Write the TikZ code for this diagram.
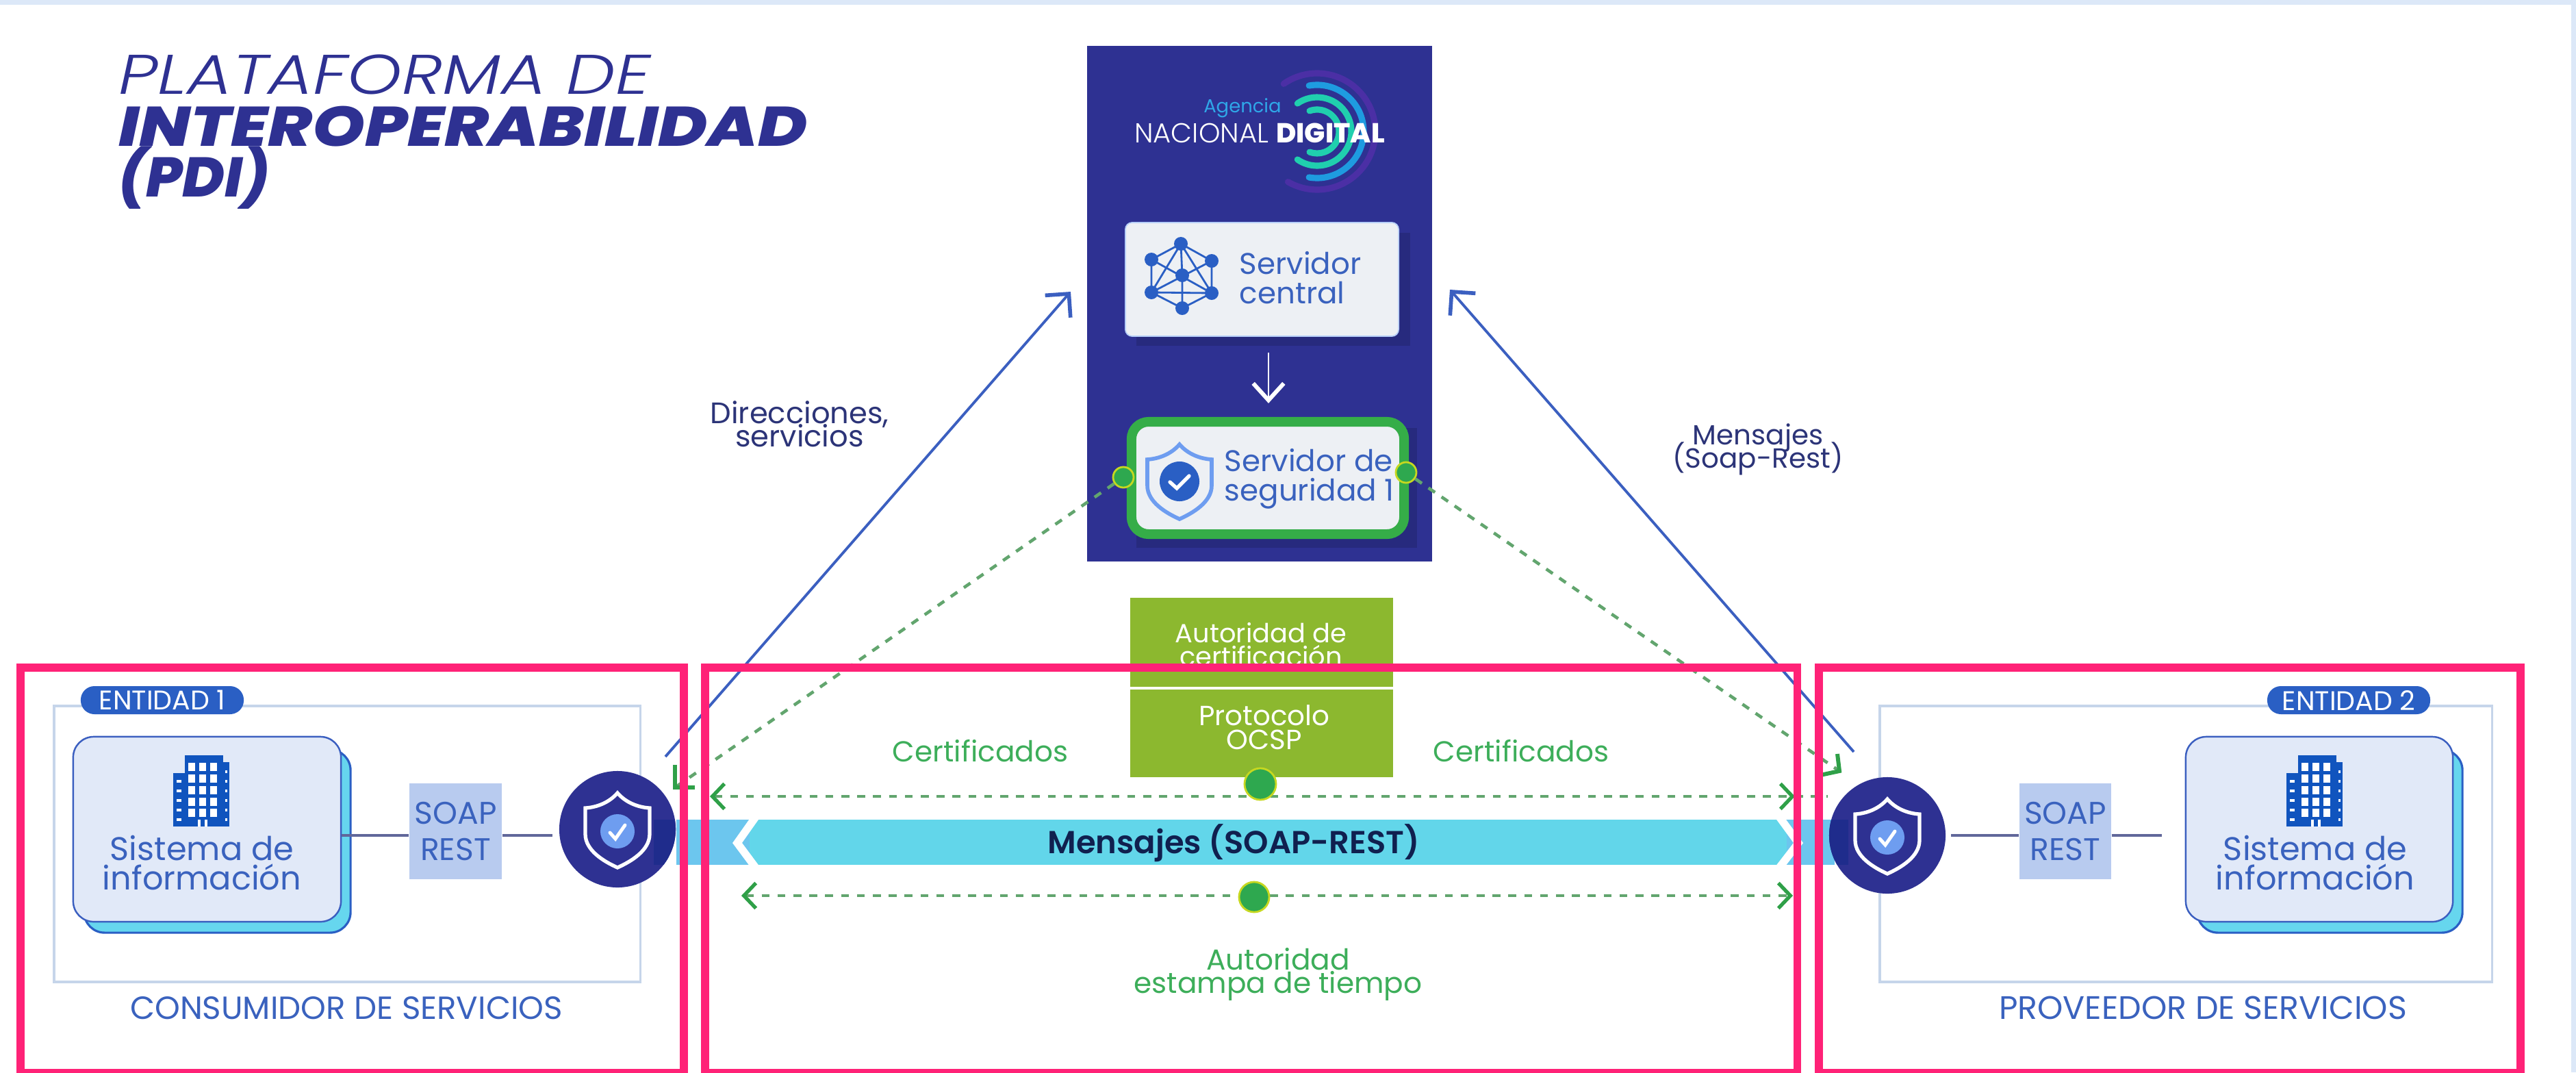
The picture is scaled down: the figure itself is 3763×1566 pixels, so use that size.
\documentclass[tikz,border=0pt]{standalone}
\usepackage{fontspec}
\setmainfont{Poppins}
\usetikzlibrary{arrows.meta,shapes.geometric,calc}
\newfontfamily\titlelight{Poppins Light Italic}[FakeStretch=1.24]
\newfontfamily\titleheavy{Poppins ExtraBold Italic}[FakeStretch=1.2]
\newfontfamily\titleshort{Poppins ExtraBold Italic}[FakeStretch=1.03]
\newfontfamily\semifont{Poppins SemiBold}
\newfontfamily\lightfont{Poppins Light}
\newfontfamily\logobold{Poppins ExtraBold}
\newcommand{\tsize}[2]{\fontsize{#1}{#2}\selectfont\lineskiplimit=-20pt\relax}
\definecolor{navy}{HTML}{2E3192}
\definecolor{navyshadow}{HTML}{272A7E}
\definecolor{navydark}{HTML}{1F2C8C}
\definecolor{pagebar}{HTML}{DCE8F8}
\definecolor{pinkframe}{HTML}{FF2277}
\definecolor{linkblue}{HTML}{3B5FC0}
\definecolor{midblue}{HTML}{2A5FC4}
\definecolor{textblue}{HTML}{3A62BE}
\definecolor{inkblue}{HTML}{2C3478}
\definecolor{bandink}{HTML}{10204F}
\definecolor{lightbox}{HTML}{E1E9F8}
\definecolor{softbox}{HTML}{EDF0F4}
\definecolor{cyanshadow}{HTML}{66D6EE}
\definecolor{soapfill}{HTML}{B8CBEF}
\definecolor{framegrey}{HTML}{C6D5EA}
\definecolor{bandcyan}{HTML}{62D6EA}
\definecolor{bandleft}{HTML}{6CC6EE}
\definecolor{mossgreen}{HTML}{8CB82F}
\definecolor{labelgreen}{HTML}{3DAE5A}
\definecolor{dashgreen}{HTML}{62A56E}
\definecolor{tipgreen}{HTML}{2FA048}
\definecolor{dotgreen}{HTML}{2EA84F}
\definecolor{ringyellow}{HTML}{C6D820}
\definecolor{secgreen}{HTML}{35AD48}
\definecolor{buildingblue}{HTML}{1054BE}
\definecolor{ringpurple}{HTML}{4B2FA5}
\definecolor{ringblue}{HTML}{1E9BE0}
\definecolor{ringteal}{HTML}{20CFAE}
\definecolor{agencyblue}{HTML}{2FA7E8}
\definecolor{checkblue}{HTML}{6E9DF0}
\tikzset{
  pinkbox/.style={draw=pinkframe,line width=3.4pt,inner sep=0pt,fill=none},
  entitybox/.style={draw=framegrey,line width=1pt,inner sep=0pt,fill=white},
  badge/.style={rounded corners=0.2cm,fill=midblue,inner sep=0pt,minimum width=2.38cm,minimum height=0.41cm,text=white,font=\tsize{11.2}{12}},
  sisbox/.style={rounded corners=0.3cm,draw=linkblue,line width=0.7pt,fill=lightbox,inner sep=0pt},
  sisshadow/.style={rounded corners=0.3cm,draw=midblue,line width=0.9pt,fill=cyanshadow,inner sep=0pt},
  soapbox/.style={fill=soapfill,inner sep=0pt,align=center,text=textblue,font=\tsize{13}{14.8}},
  circlenode/.style={circle,fill=navy,inner sep=0pt,minimum size=1.7cm},
  caption/.style={text=textblue,inner sep=0pt},
  systext/.style={text=textblue,align=center,inner sep=0pt,font=\tsize{13.6}{12.2}},
  greentext/.style={text=labelgreen,align=center,inner sep=0pt,font=\tsize{12}{9.6}},
  inktext/.style={text=inkblue,align=center,inner sep=0pt},
  whitegreen/.style={text=white,align=center,inner sep=0pt},
  srvtext/.style={text=textblue,align=left,inner sep=0pt,anchor=west,font=\tsize{12.4}{12.2}},
  thinlink/.style={draw=inkblue!75,line width=1.1pt},
  bluearrow/.style={draw=linkblue,line width=1.1pt,-{Straight Barb[length=7pt,width=14pt,line width=1.6pt]}},
  greendash/.style={draw=dashgreen,line width=1.3pt,dash pattern=on 3.3pt off 3.3pt},
  greenhead/.style={draw=tipgreen,line width=1.7pt,line join=miter},
  greentips/.style={greendash,{Straight Barb[length=5pt,width=10.5pt,line width=1.5pt,color=tipgreen]}-{Straight Barb[length=5pt,width=10.5pt,line width=1.5pt,color=tipgreen]}},
  greendot/.style={circle,fill=dotgreen,draw=ringyellow,line width=0.8pt,inner sep=0pt},
  netdot/.style={circle,fill=midblue,inner sep=0pt,minimum size=0.2cm},
  logoarc/.style={line width=2.6pt,line cap=round},
  building/.pic={
    \fill[buildingblue] (-42,26) rectangle (-25,-52);
    \fill[buildingblue] (31,42) rectangle (40,-52);
    \fill[buildingblue] (-25,52) rectangle (31,-52);
    \foreach \c in {-15,1,17}{\foreach \r in {35,18,1,-16,-32}{\fill[white] (\c-5,\r-6) rectangle (\c+5,\r+6);}}
    \foreach \r in {14,0,-14,-28,-42}{\fill[white] (-37,\r-2) rectangle (-30,\r+2);}
    \foreach \r in {28,14,0,-14,-28,-42}{\fill[white] (34,\r-2) rectangle (37,\r+2);}
    \fill[white] (-6,-52) rectangle (-2,-42);
    \fill[white] (4,-52) rectangle (8,-42);
  },
  shieldpic/.pic={
    \path[pic actions] (0,54) .. controls (12,40) and (30,33) .. (47,32) -- (47,-6) .. controls (47,-30) and (20,-46) .. (0,-55) .. controls (-20,-46) and (-47,-30) .. (-47,-6) -- (-47,32) .. controls (-30,33) and (-12,40) .. (0,54) -- cycle;
  }
}
\begin{document}
\begin{tikzpicture}[x=0.01cm,y=0.01cm]
\useasboundingbox (0,0) rectangle (3763,-1566);
\fill[white] (0,0) rectangle (3763,-1566);
\fill[pagebar] (0,0) rectangle (3763,-7);
\fill[pagebar] (3756,0) rectangle (3763,-1566);

% title
\node[anchor=base west,inner sep=0pt,text=navy,font=\tsize{23.2}{24}\titlelight] (title1) at (173,-137) {PLATAFORMA DE};
\node[anchor=base west,inner sep=0pt,text=navy,font=\tsize{23.2}{24}\titleheavy] (title2) at (173,-213) {INTEROPERABILIDAD};
\node[anchor=base west,inner sep=0pt,text=navy,font=\tsize{23.2}{24}\titleshort] (title3) at (173,-287) {(PDI)};

% central column
\node[fill=navy,inner sep=0pt,minimum width=5.03cm,minimum height=7.53cm] (panel) at (1840,-443.5) {};
% logo
\foreach \r/\col/\a/\b in {85/ringpurple/125/-120, 68/ringblue/100/-100, 50/ringteal/125/-125, 32/ringteal/110/-110}{
  \draw[logoarc,\col] (1924,-192) ++(\a:\r) arc[start angle=\a,end angle=\b,radius=\r*0.01cm];
}
\node[inner sep=0pt,text=agencyblue,font=\tsize{7.8}{10}] (agencia) at (1815,-158) {Agencia};
\node[inner sep=0pt,text=white,anchor=center,font=\tsize{11.4}{12}] (nacional) at (1840,-194) {\lightfont NACIONAL {\logobold DIGITAL}};

% servidor central
\fill[navyshadow] (1660,-340) rectangle (2060,-505);
\node[rounded corners=0.1cm,fill=softbox,draw=checkblue!50,line width=0.5pt,inner sep=0pt,minimum width=3.99cm,minimum height=1.66cm] (central) at (1843.5,-408) {};
\coordinate (n1) at (1725,-356);
\coordinate (n2) at (1770,-381);
\coordinate (n3) at (1770,-428);
\coordinate (n4) at (1727,-450);
\coordinate (n5) at (1682,-427);
\coordinate (n6) at (1682,-379);
\coordinate (n7) at (1727,-402);
\draw[midblue,line width=0.8pt] (n1)--(n2)--(n3)--(n4)--(n5)--(n6)--cycle (n1)--(n7)--(n4) (n6)--(n3) (n2)--(n5) (n5)--(n3) (n1)--(n5) (n1)--(n3);
\foreach \n in {n1,n2,n3,n4,n5,n6,n7}{\node[netdot] at (\n) {};}
\node[srvtext] (centraltext) at (1810,-406) {Servidor\\central};

% security server
\fill[navyshadow] (1660,-625) rectangle (2070,-800);
\node[rounded corners=0.25cm,fill=softbox,draw=secgreen,line width=4pt,inner sep=0pt,minimum width=3.98cm,minimum height=1.64cm] (security) at (1852,-698) {};
\coordinate (downstart) at ($(central.south)+(9.5,-23)$);
\coordinate (downtip) at ($(security.north)+(1,20)$);
\draw[white,line width=0.8pt,-{Straight Barb[length=7pt,width=12.7pt,line width=1.7pt]}] (downstart) -- (downtip);
\node[srvtext] (securitytext) at (1788,-699) {Servidor de\\seguridad 1};
\pic[draw=checkblue,line width=1.6pt,fill=softbox] at (1723,-703) {shieldpic};
\fill[midblue] (1723,-703) circle (0.29cm);
\draw[white,line width=1.5pt,line cap=round] (1709,-704) -- (1719,-713) -- (1737,-695);

\node[greendot,minimum size=0.3cm] (dotL) at (1641,-697) {};
\node[greendot,minimum size=0.3cm] (dotR) at (2054,-690) {};

% blue connectors
\coordinate (dirstart) at (972,-1105);
\coordinate (dirtip) at (1564,-426);
\coordinate (msgstart) at (2708,-1098);
\coordinate (msgtip) at (2118,-423);
\draw[bluearrow] (dirstart) -- (dirtip);
\draw[bluearrow] (msgstart) -- (msgtip);
\node[inktext,font=\tsize{12.3}{9.6}] (dirlabel) at (1168,-619) {Direcciones,\\servicios};
\node[inktext,font=\tsize{11.5}{9.6}] (msglabel) at (2568,-656) {Mensajes\\(Soap-Rest)};

% entity boxes
\node[entitybox,minimum width=8.56cm,minimum height=4.03cm] (ent1) at (507,-1232.5) {};
\node[entitybox,minimum width=8.94cm,minimum height=4.03cm] (ent2) at (3193,-1232.5) {};
\node[badge] (bad1) at (237,-1022.5) {ENTIDAD 1};
\node[badge] (bad2) at (3431,-1022.5) {ENTIDAD 2};
\node[caption,font=\tsize{13.3}{14}] (cap1) at (506,-1472) {CONSUMIDOR DE SERVICIOS};
\node[caption,font=\tsize{13.5}{14}] (cap2) at (3218,-1472) {PROVEEDOR DE SERVICIOS};

% band
\fill[bandcyan] (988,-1197) rectangle (2680,-1263);
\fill[bandleft] (988,-1197) rectangle (1095,-1263);
\fill[bandleft] (2610,-1197) rectangle (2680,-1263);
\draw[white,line width=3.2pt,line join=miter] (1106,-1190) -- (1077,-1231) -- (1106,-1270);
\draw[white,line width=3.2pt,line join=miter] (2597,-1190) -- (2627,-1231) -- (2597,-1270);
\node[inner sep=0pt,text=bandink,font=\tsize{13.2}{14}\semifont] (band) at (1802,-1231) {Mensajes (SOAP-REST)};

% left system
\node[sisshadow,minimum width=3.89cm,minimum height=2.67cm] (sh1) at (317.5,-1228.5) {};
\node[sisbox,minimum width=3.91cm,minimum height=2.70cm] (sis1) at (302.5,-1211) {};
\pic at (295,-1155) {building};
\node[systext] (sistxt1) at (295,-1260) {Sistema de\\información};
\node[soapbox,minimum width=1.35cm,minimum height=1.40cm] (soap1) at (665.5,-1214) {SOAP\\REST};
\node[circlenode] (c1) at (902,-1211) {};
\begin{scope}
\clip (902,-1211) circle (0.85cm);
\fill[navydark] (955,-1197) rectangle (1000,-1263);
\end{scope}
\pic[draw=white,line width=1.5pt,fill=none] at (902,-1212) {shieldpic};
\fill[checkblue] (902,-1214) circle (0.25cm);
\draw[white,line width=1.4pt,line cap=round] (891,-1216) -- (899,-1225) -- (913,-1205);
\draw[thinlink] (sis1.east |- 0,-1220) -- (soap1.west |- 0,-1220);
\draw[thinlink] (soap1.east |- 0,-1220) -- (807,-1220);

% right system
\node[sisshadow,minimum width=3.87cm,minimum height=2.67cm] (sh2) at (3403.5,-1228.5) {};
\node[sisbox,minimum width=3.90cm,minimum height=2.70cm] (sis2) at (3388,-1211) {};
\pic at (3382,-1155) {building};
\node[systext] (sistxt2) at (3382,-1260) {Sistema de\\información};
\node[soapbox,minimum width=1.34cm,minimum height=1.40cm] (soap2) at (3017,-1214) {SOAP\\REST};
\node[circlenode] (c2) at (2757,-1220) {};
\begin{scope}
\clip (2757,-1220) circle (0.85cm);
\fill[navydark] (2660,-1197) rectangle (2700,-1263);
\end{scope}
\pic[draw=white,line width=1.5pt,fill=none] at (2757,-1221) {shieldpic};
\fill[checkblue] (2757,-1223) circle (0.25cm);
\draw[white,line width=1.4pt,line cap=round] (2746,-1225) -- (2754,-1234) -- (2768,-1214);
\draw[thinlink] (2850,-1220) -- (soap2.west |- 0,-1220);
\draw[thinlink] (soap2.east |- 0,-1220) -- (3158,-1220);

% authority box
\node[fill=mossgreen,inner sep=0pt,minimum width=3.84cm,minimum height=2.62cm] (auth) at (1843,-1004) {};
\draw[white,line width=0.9pt] (auth.west |- 0,-1005) -- (auth.east |- 0,-1005);
\node[whitegreen,font=\tsize{10.9}{9.8}] (authtxt) at (1842,-941) {Autoridad de\\certificación};
\node[whitegreen,font=\tsize{11.5}{9.8}] (ocsptxt) at (1847,-1062) {Protocolo\\OCSP};

% dashed certificates
\coordinate (certL) at (1037,-1163);
\coordinate (certR) at (2622,-1163);
\coordinate (certRend) at (2670,-1163);
\coordinate (timeL) at (1083,-1308);
\coordinate (timeR) at (2619,-1308);
\draw[greentips] (certL) -- (certR);
\draw[greendash] (certR) -- (certRend);
\draw[greentips] (timeL) -- (timeR);
\node[greendot,minimum size=0.46cm] (dotcert) at (1841,-1145) {};
\node[greendot,minimum size=0.44cm] (dottime) at (1832,-1310) {};

% diagonal dashes
\coordinate (tipL) at (986,-1150);
\coordinate (tipR) at (2687,-1126);
\draw[greendash] (dotL) -- (tipL);
\draw[greendash] (dotR) -- (tipR);
\draw[greenhead] ($(tipL)+(0,33)$) -- (tipL) -- ($(tipL)+(29,0)$);
\draw[greenhead] ($(tipR)+(-3,25)$) -- (tipR) -- ($(tipR)+(-28,-6)$);

\node[greentext] (certlab1) at (1432,-1097) {Certificados};
\node[greentext] (certlab2) at (2222,-1097) {Certificados};
\node[greentext] (timelab) at (1867,-1423) {Autoridad\\estampa de tiempo};

% pink frames
\node[pinkbox,minimum width=9.69cm,minimum height=5.92cm] (frame1) at (514.5,-1271) {};
\node[pinkbox,minimum width=15.95cm,minimum height=5.92cm] (frame2) at (1827.5,-1271) {};
\node[pinkbox,minimum width=10.25cm,minimum height=5.92cm] (frame3) at (3169.5,-1271) {};
\end{tikzpicture}
\end{document}
